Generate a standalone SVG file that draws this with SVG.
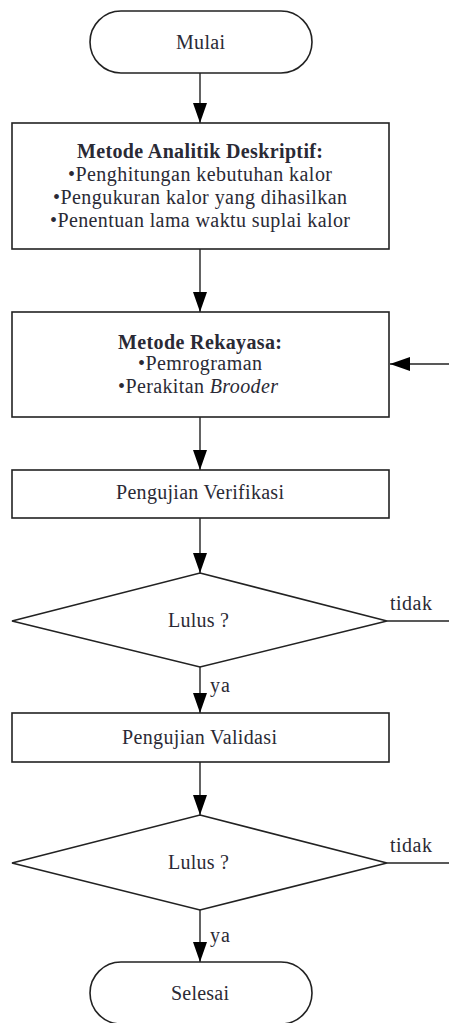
<svg xmlns="http://www.w3.org/2000/svg" width="449" height="1023" viewBox="0 0 449 1023">
<defs>
<style>
.s{fill:#fff;stroke:#222;stroke-width:1.6}
.c{fill:none;stroke:#222;stroke-width:1.4}
text{font-family:"Liberation Serif","Times New Roman",serif;font-size:20px;fill:#2a2a35}
.m{text-anchor:middle}
.b{font-weight:bold}
</style>
<marker id="ah" viewBox="0 0 20 14" refX="20" refY="7" markerWidth="20" markerHeight="14" markerUnits="userSpaceOnUse" orient="auto">
<path d="M0,0 L20,7 L0,14 Z" fill="#000"/>
</marker>
</defs>
<rect width="449" height="1023" fill="#fff"/>
<g id="connectors">
<line class="c" x1="200" y1="73" x2="200" y2="123" marker-end="url(#ah)"/>
<line class="c" x1="200" y1="249" x2="200" y2="312" marker-end="url(#ah)"/>
<line class="c" x1="200" y1="417" x2="200" y2="470" marker-end="url(#ah)"/>
<line class="c" x1="200" y1="518" x2="200" y2="573" marker-end="url(#ah)"/>
<line class="c" x1="200" y1="667" x2="200" y2="713" marker-end="url(#ah)"/>
<line class="c" x1="200" y1="762" x2="200" y2="815" marker-end="url(#ah)"/>
<line class="c" x1="200" y1="910" x2="200" y2="962" marker-end="url(#ah)"/>
<line class="c" x1="387" y1="621" x2="449" y2="621"/>
<line class="c" x1="387" y1="863" x2="449" y2="863"/>
<line class="c" x1="449" y1="364" x2="390" y2="364" marker-end="url(#ah)"/>
<text x="390" y="610" textLength="42" lengthAdjust="spacing">tidak</text>
<text x="210" y="692" textLength="20" lengthAdjust="spacing">ya</text>
<text x="390" y="852" textLength="42" lengthAdjust="spacing">tidak</text>
<text x="210" y="942" textLength="20" lengthAdjust="spacing">ya</text>
</g>
<g id="mulai">
<rect class="s" x="90" y="11" width="222" height="62" rx="31" ry="31"/>
<text class="m" x="200.5" y="49" textLength="49" lengthAdjust="spacing">Mulai</text>
</g>
<g id="analitik">
<rect class="s" x="12" y="123" width="377" height="126"/>
<text class="m b" x="200" y="158" textLength="246" lengthAdjust="spacing">Metode Analitik Deskriptif:</text>
<text class="m" x="200" y="181" textLength="264" lengthAdjust="spacing">•Penghitungan kebutuhan kalor</text>
<text class="m" x="200" y="204" textLength="294" lengthAdjust="spacing">•Pengukuran kalor yang dihasilkan</text>
<text class="m" x="200" y="227" textLength="300" lengthAdjust="spacing">•Penentuan lama waktu suplai kalor</text>
</g>
<g id="rekayasa">
<rect class="s" x="12" y="312" width="377" height="105"/>
<text class="m b" x="200" y="349" textLength="164" lengthAdjust="spacing">Metode Rekayasa:</text>
<text class="m" x="200" y="370" textLength="124" lengthAdjust="spacing">•Pemrograman</text>
<text class="m" x="198" y="393" textLength="160" lengthAdjust="spacing">•Perakitan <tspan font-style="italic">Brooder</tspan></text>
</g>
<g id="verifikasi">
<rect class="s" x="12" y="470" width="377" height="48"/>
<text class="m" x="200" y="499" textLength="168" lengthAdjust="spacing">Pengujian Verifikasi</text>
</g>
<g id="lulus1">
<polygon class="s" points="200,573 387,621 200,667 12,621"/>
<text class="m" x="198.5" y="627" textLength="61" lengthAdjust="spacing">Lulus ?</text>
</g>
<g id="validasi">
<rect class="s" x="12" y="713" width="377" height="49"/>
<text class="m" x="199.5" y="744" textLength="155" lengthAdjust="spacing">Pengujian Validasi</text>
</g>
<g id="lulus2">
<polygon class="s" points="200,815 387,863 200,910 12,863"/>
<text class="m" x="198.5" y="869" textLength="61" lengthAdjust="spacing">Lulus ?</text>
</g>
<g id="selesai">
<rect class="s" x="90" y="962" width="222" height="62" rx="31" ry="31"/>
<text class="m" x="200" y="1000" textLength="58" lengthAdjust="spacing">Selesai</text>
</g>
</svg>
